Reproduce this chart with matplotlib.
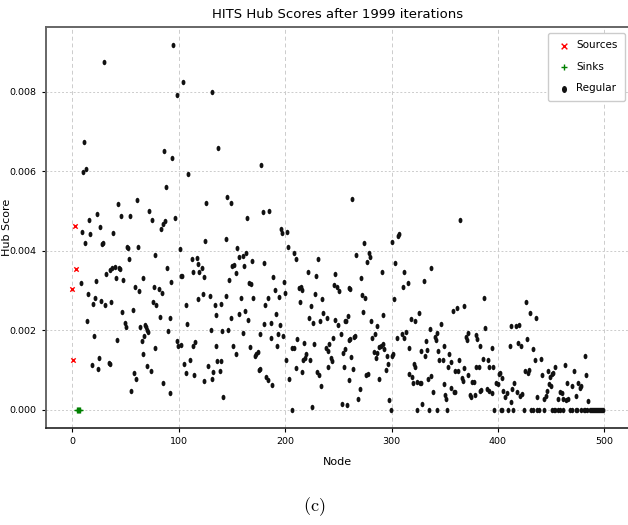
import matplotlib
matplotlib.use("Agg")
import matplotlib.pyplot as plt
from matplotlib.path import Path

# hub scores by node
source_nodes = [0, 1, 2, 3]
source_scores = [0.00304, 0.00124, 0.00462, 0.00354]

sink_nodes = [4, 5, 6, 7]
sink_scores = [0.0, 0.0, 0.0, 0.0]

regular_points = [
    # nodes 8-120
    (30, 0.00874), (95, 0.00917), (104, 0.00825), (98, 0.00792), (131, 0.00800),
    (11, 0.00673), (10, 0.00598), (13, 0.00604), (86, 0.00651), (94, 0.00634),
    (109, 0.00593), (88, 0.00559), (43, 0.00516), (61, 0.00526), (23, 0.00492),
    (46, 0.00487), (54, 0.00487), (72, 0.00499), (16, 0.00476), (75, 0.00478),
    (96, 0.00482), (87, 0.00474), (85, 0.00467), (26, 0.00460), (9, 0.00447),
    (17, 0.00442), (38, 0.00445), (83, 0.00455), (12, 0.00420), (28, 0.00417),
    (29, 0.00420), (51, 0.00408), (52, 0.00406), (62, 0.00408), (101, 0.00403),
    (78, 0.00390), (53, 0.00378), (112, 0.00380), (117, 0.00382), (118, 0.00367),
    (89, 0.00357), (35, 0.00351), (37, 0.00355), (40, 0.00359), (44, 0.00357),
    (45, 0.00354), (32, 0.00340), (113, 0.00345), (119, 0.00345), (41, 0.00332),
    (66, 0.00332), (102, 0.00335), (103, 0.00335), (8, 0.00319), (22, 0.00323),
    (48, 0.00325), (93, 0.00320), (59, 0.00308), (63, 0.00298), (77, 0.00308),
    (81, 0.00303), (84, 0.00293), (15, 0.00291), (21, 0.00282), (27, 0.00274),
    (36, 0.00271), (19, 0.00266), (31, 0.00262), (76, 0.00271), (79, 0.00263),
    (118, 0.00278), (107, 0.00263), (47, 0.00246), (57, 0.00250), (82, 0.00233),
    (92, 0.00230), (14, 0.00222), (49, 0.00219), (50, 0.00208), (108, 0.00215),
    (64, 0.00208), (68, 0.00212), (69, 0.00207), (70, 0.00201), (71, 0.00195),
    (20, 0.00186), (90, 0.00197), (42, 0.00174), (65, 0.00173), (67, 0.00186),
    (98, 0.00172), (99, 0.00161), (102, 0.00163), (113, 0.00161), (115, 0.00170),
    (78, 0.00154), (66, 0.00140), (25, 0.00129), (34, 0.00118), (35, 0.00116),
    (111, 0.00124), (105, 0.00116), (18, 0.00113), (24, 0.00102), (70, 0.00109),
    (74, 0.00098), (107, 0.00093), (114, 0.00087), (58, 0.00092), (60, 0.00077),
    (85, 0.00066), (92, 0.00042), (55, 0.00046),
    # nodes 120-260
    (137, 0.00658), (177, 0.00614), (145, 0.00534), (149, 0.00520), (126, 0.00520),
    (179, 0.00497), (185, 0.00499), (164, 0.00482), (196, 0.00455), (197, 0.00443),
    (202, 0.00448), (125, 0.00425), (144, 0.00430), (203, 0.00408), (155, 0.00407),
    (208, 0.00395), (210, 0.00378), (157, 0.00385), (160, 0.00387), (163, 0.00394),
    (169, 0.00375), (180, 0.00369), (122, 0.00356), (124, 0.00333), (150, 0.00362),
    (152, 0.00365), (161, 0.00362), (154, 0.00344), (147, 0.00325), (166, 0.00318),
    (168, 0.00315), (189, 0.00333), (199, 0.00320), (190, 0.00300), (213, 0.00306),
    (215, 0.00308), (216, 0.00301), (221, 0.00347), (231, 0.00379), (229, 0.00337),
    (247, 0.00340), (246, 0.00314), (249, 0.00309), (251, 0.00299), (260, 0.00305),
    (200, 0.00293), (123, 0.00290), (129, 0.00285), (144, 0.00287), (170, 0.00282),
    (184, 0.00281), (181, 0.00262), (194, 0.00283), (158, 0.00281), (228, 0.00290),
    (235, 0.00277), (214, 0.00270), (224, 0.00261), (134, 0.00263), (140, 0.00265),
    (135, 0.00238), (191, 0.00240), (157, 0.00240), (162, 0.00247), (149, 0.00230),
    (165, 0.00225), (222, 0.00230), (226, 0.00218), (236, 0.00243), (239, 0.00230),
    (233, 0.00223), (247, 0.00225), (250, 0.00214), (256, 0.00222), (259, 0.00236),
    (180, 0.00215), (187, 0.00218), (195, 0.00214), (130, 0.00200), (141, 0.00198),
    (146, 0.00200), (160, 0.00193), (176, 0.00191), (187, 0.00181), (193, 0.00190),
    (198, 0.00186), (192, 0.00161), (211, 0.00178), (218, 0.00168), (227, 0.00166),
    (245, 0.00180), (252, 0.00191), (260, 0.00176), (206, 0.00156), (208, 0.00156),
    (238, 0.00156), (241, 0.00165), (240, 0.00148), (254, 0.00142), (256, 0.00153),
    (135, 0.00161), (151, 0.00161), (154, 0.00141), (167, 0.00158), (172, 0.00135),
    (173, 0.00141), (174, 0.00145), (127, 0.00110), (136, 0.00123), (140, 0.00123),
    (201, 0.00126), (217, 0.00124), (219, 0.00129), (220, 0.00139), (223, 0.00124),
    (243, 0.00129), (244, 0.00123), (132, 0.00094), (131, 0.00076), (139, 0.00097),
    (124, 0.00073), (175, 0.00100), (176, 0.00102), (182, 0.00081), (184, 0.00074),
    (188, 0.00061), (210, 0.00105), (216, 0.00094), (230, 0.00094), (232, 0.00088),
    (204, 0.00078), (240, 0.00106), (255, 0.00106), (260, 0.00074), (234, 0.00059),
    (142, 0.00032), (206, 0.0), (225, 0.00007), (253, 0.00013), (258, 0.00011),
    # nodes 260-400
    (263, 0.00529), (364, 0.00477), (274, 0.00420), (307, 0.00442), (306, 0.00436),
    (300, 0.00421), (267, 0.00388), (279, 0.00393), (280, 0.00383), (277, 0.00371),
    (303, 0.00370), (291, 0.00346), (312, 0.00346), (337, 0.00357), (261, 0.00303),
    (271, 0.00332), (330, 0.00323), (311, 0.00309), (315, 0.00318), (272, 0.00289),
    (275, 0.00282), (273, 0.00245), (302, 0.00278), (292, 0.00238), (257, 0.00224),
    (281, 0.00224), (286, 0.00211), (326, 0.00243), (318, 0.00227), (322, 0.00224),
    (358, 0.00249), (361, 0.00256), (368, 0.00260), (387, 0.00282), (388, 0.00206),
    (261, 0.00177), (265, 0.00183), (266, 0.00186), (284, 0.00191), (282, 0.00180),
    (310, 0.00190), (312, 0.00180), (314, 0.00195), (305, 0.00181), (336, 0.00204),
    (346, 0.00216), (341, 0.00182), (342, 0.00175), (343, 0.00193), (332, 0.00173),
    (370, 0.00183), (371, 0.00175), (372, 0.00193), (379, 0.00187), (380, 0.00178),
    (383, 0.00161), (394, 0.00154), (262, 0.00132), (283, 0.00145), (285, 0.00129),
    (286, 0.00142), (288, 0.00157), (290, 0.00161), (292, 0.00165), (293, 0.00152),
    (296, 0.00136), (297, 0.00116), (295, 0.00100), (301, 0.00139), (300, 0.00135),
    (316, 0.00156), (328, 0.00148), (331, 0.00136), (333, 0.00150), (344, 0.00148),
    (345, 0.00124), (348, 0.00124), (349, 0.00161), (354, 0.00139), (356, 0.00119),
    (363, 0.00125), (360, 0.00098), (362, 0.00098), (353, 0.00106), (368, 0.00104),
    (379, 0.00108), (382, 0.00108), (386, 0.00127), (391, 0.00124), (392, 0.00108),
    (395, 0.00108), (321, 0.00115), (322, 0.00108), (337, 0.00085), (328, 0.00066),
    (324, 0.00070), (327, 0.00066), (334, 0.00076), (316, 0.00090), (319, 0.00081),
    (320, 0.00066), (339, 0.00044), (349, 0.00065), (350, 0.00036), (351, 0.00026),
    (356, 0.00055), (359, 0.00044), (360, 0.00044), (366, 0.00080), (367, 0.00073),
    (372, 0.00088), (376, 0.00069), (377, 0.00069), (374, 0.00037), (375, 0.00033),
    (378, 0.00037), (383, 0.00047), (384, 0.00050), (390, 0.00052), (392, 0.00047),
    (394, 0.00042), (398, 0.00066), (400, 0.00065), (401, 0.00089), (288, 0.00077),
    (276, 0.00086), (278, 0.00089), (264, 0.00103), (270, 0.00052), (268, 0.00026),
    (298, 0.00024), (299, 0.0), (329, 0.00015), (324, 0.0), (335, 0.0),
    (343, 0.0), (352, 0.0), (396, 0.0),
    # nodes 400-499
    (426, 0.00270), (430, 0.00243), (436, 0.00231), (412, 0.00210), (417, 0.00211),
    (420, 0.00214), (411, 0.00159), (419, 0.00167), (422, 0.00161), (427, 0.00178),
    (433, 0.00153), (435, 0.00124), (440, 0.00128), (482, 0.00134), (425, 0.00098),
    (428, 0.00093), (429, 0.00099), (441, 0.00087), (447, 0.00098), (449, 0.00083),
    (451, 0.00089), (452, 0.00093), (454, 0.00106), (463, 0.00112), (471, 0.00098),
    (483, 0.00087), (402, 0.00091), (404, 0.00080), (405, 0.00047), (407, 0.00032),
    (408, 0.00043), (412, 0.00019), (413, 0.00051), (415, 0.00066), (418, 0.00045),
    (421, 0.00034), (423, 0.00040), (437, 0.00031), (443, 0.00026), (445, 0.00035),
    (446, 0.00047), (448, 0.00065), (450, 0.00060), (456, 0.00028), (458, 0.00045),
    (460, 0.00041), (461, 0.00026), (464, 0.00023), (465, 0.00068), (466, 0.00028),
    (470, 0.00060), (473, 0.00034), (475, 0.00066), (477, 0.00055), (478, 0.00060),
    (485, 0.00021),
    (403, 0.0), (404, 0.0), (409, 0.0), (414, 0.0), (424, 0.0), (431, 0.0),
    (433, 0.0), (437, 0.0), (439, 0.0), (443, 0.0), (451, 0.0), (453, 0.0),
    (454, 0.0), (456, 0.0), (458, 0.0), (461, 0.0), (468, 0.0), (470, 0.0),
    (473, 0.0), (474, 0.0), (478, 0.0), (481, 0.0), (482, 0.0), (484, 0.0),
    (486, 0.0), (487, 0.0), (488, 0.0), (489, 0.0), (490, 0.0), (491, 0.0),
    (492, 0.0), (493, 0.0), (494, 0.0), (495, 0.0), (496, 0.0), (497, 0.0),
    (498, 0.0), (499, 0.0),
]

regular_nodes = [p[0] for p in regular_points]
regular_scores = [p[1] for p in regular_points]

plt.rcParams['font.family'] = ['DejaVu Sans']

# slightly tall dots
circle = Path.unit_circle()
tall_dot = Path(circle.vertices * [0.72, 1.0], circle.codes)

fig = plt.figure(figsize=(6.28, 5.25), dpi=100)
ax = fig.add_axes([0.073, 0.185, 0.930, 0.764])

ax.scatter(source_nodes, source_scores, marker='x', color='red', s=10,
           linewidths=1.0, label='Sources', zorder=3)
ax.scatter(sink_nodes, sink_scores, marker='+', color='green', s=14,
           linewidths=1.0, label='Sinks', zorder=3)
ax.scatter(regular_nodes, regular_scores, marker=tall_dot, color='#111111', s=15,
           linewidths=0, label='Regular', zorder=2)

ax.set_xticks([0, 100, 200, 300, 400, 500])
ax.set_yticks([0.000, 0.002, 0.004, 0.006, 0.008])
ax.set_yticklabels(['0.000', '0.002', '0.004', '0.006', '0.008'])
ax.tick_params(labelsize=6.8, length=3, width=0.8)

ax.xaxis.grid(True, linestyle=(0, (4, 3)), color='#cccccc', linewidth=0.7)
ax.yaxis.grid(True, linestyle=(0, (2, 2)), color='#cccccc', linewidth=0.7)
ax.set_axisbelow(True)

for side in ['top', 'left', 'right']:
    ax.spines[side].set_color('#666666')
    ax.spines[side].set_linewidth(1.4)
ax.spines['bottom'].set_color('#222222')
ax.spines['bottom'].set_linewidth(1.2)

ax.set_title('HITS Hub Scores after 1999 iterations', fontsize=9.5, pad=6)
ax.set_xlabel('Node', fontsize=8, labelpad=8)
ax.set_ylabel('Hub Score', fontsize=8)
ax.yaxis.set_label_coords(-0.058, 0.5)

ax.legend(loc='upper right', fontsize=7.5, framealpha=1.0, borderpad=0.7,
          labelspacing=1.1, handletextpad=0.4, handlelength=1.6,
          markerscale=1.3, bbox_to_anchor=(1.0, 0.997))

fig.text(0.5, 0.035, r'$\mathrm{(c)}$', ha='center', va='center',
         fontsize=13, math_fontfamily='cm')

fig.savefig('out.png', dpi=100)
